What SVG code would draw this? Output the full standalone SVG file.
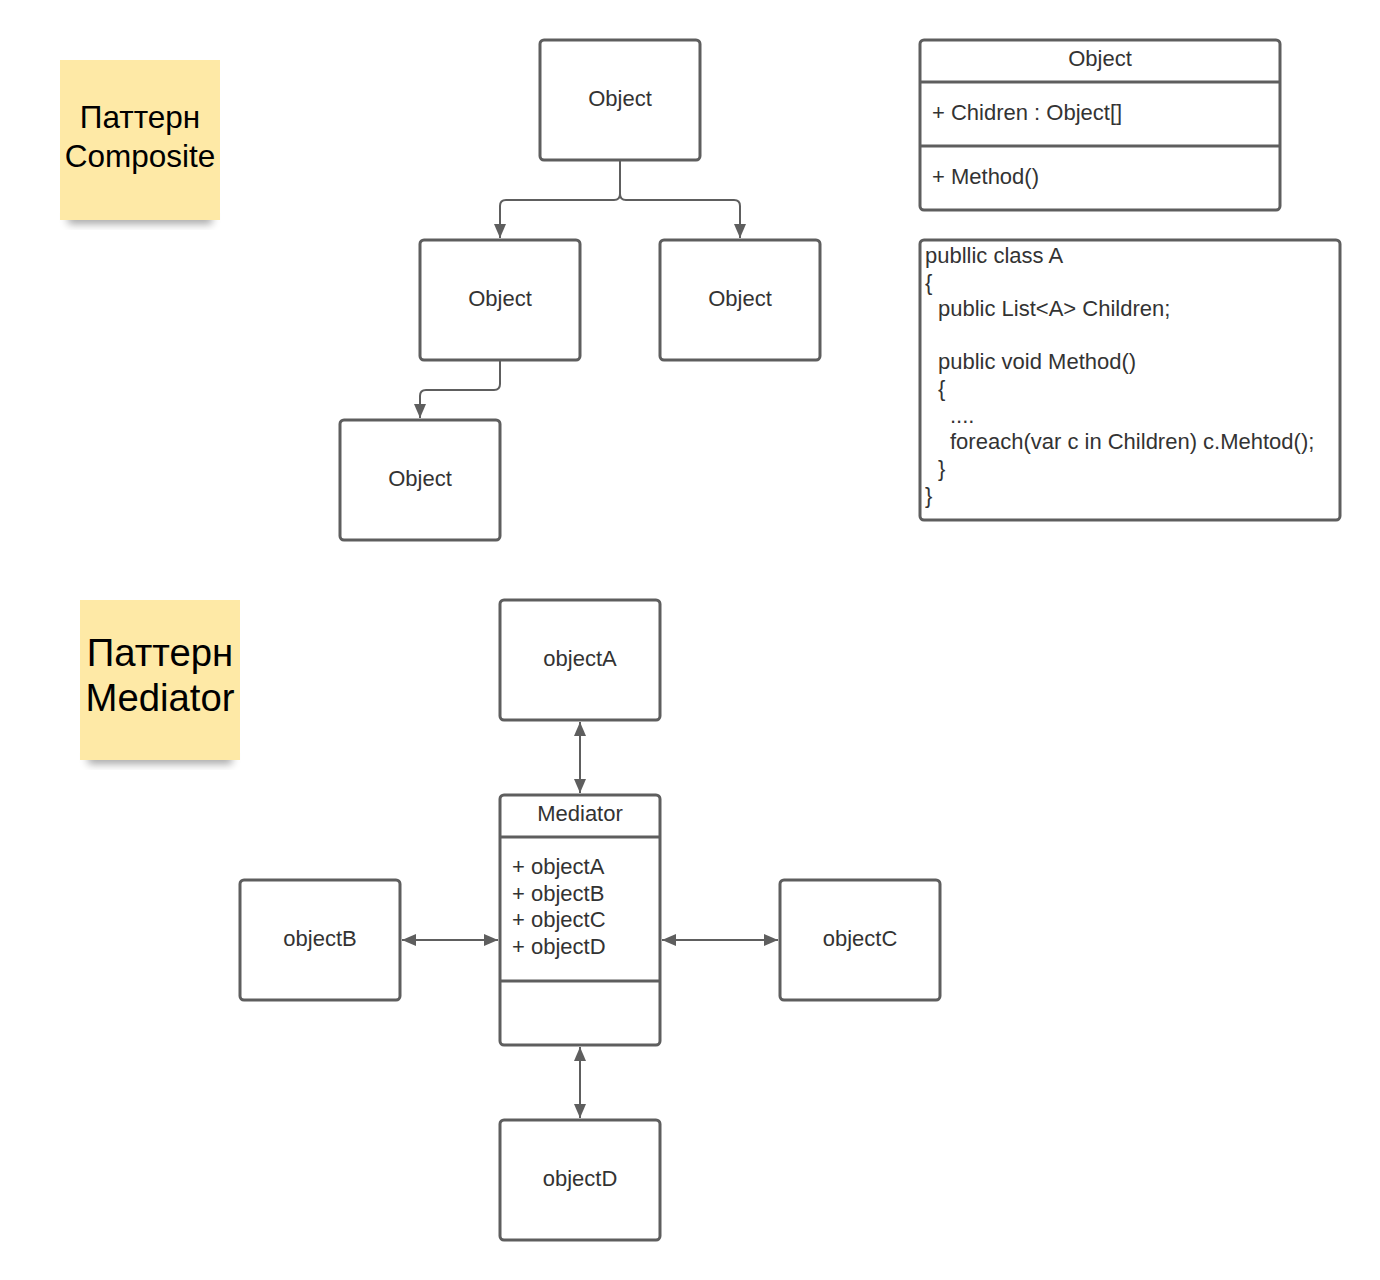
<svg xmlns="http://www.w3.org/2000/svg" width="1380" height="1280" viewBox="0 0 1380 1280">
<defs>
<style>
.box{fill:#fff;stroke:#5e5e5e;stroke-width:3}
.div{stroke:#5e5e5e;stroke-width:3}
.lbl{font-family:"Liberation Sans",Arial,sans-serif;font-size:22px;fill:#333}
.sticky{fill:#fee9a6}
.st{font-family:"Liberation Sans",Arial,sans-serif;fill:#000}
.con{fill:none;stroke:#5e5e5e;stroke-width:2}
</style>
<marker id="ah" viewBox="0 0 14 12" refX="14" refY="6" markerWidth="14" markerHeight="12" markerUnits="userSpaceOnUse" orient="auto-start-reverse">
<path d="M0,0 L14,6 L0,12 Z" fill="#5e5e5e"/>
</marker>
<filter id="sh" x="-20%" y="-50%" width="140%" height="200%">
<feGaussianBlur stdDeviation="4"/>
</filter>
</defs>
<rect width="1380" height="1280" fill="#fff"/>

<g id="sticky-composite">
<rect x="68" y="212" width="144" height="12" fill="#000" opacity="0.35" filter="url(#sh)"/>
<rect class="sticky" x="60" y="60" width="160" height="160"/>
<text class="st" x="140" y="128" font-size="31.5" text-anchor="middle">Паттерн</text>
<text class="st" x="140" y="167" font-size="31.5" text-anchor="middle">Composite</text>
</g>

<g id="sticky-mediator">
<rect x="88" y="752" width="144" height="12" fill="#000" opacity="0.35" filter="url(#sh)"/>
<rect class="sticky" x="80" y="600" width="160" height="160"/>
<text class="st" x="160" y="666" font-size="38.3" text-anchor="middle">Паттерн</text>
<text class="st" x="160" y="711" font-size="38.3" text-anchor="middle">Mediator</text>
</g>

<g id="obj-top">
<rect class="box" x="540" y="40" width="160" height="120" rx="4"/>
<text class="lbl" x="620" y="106" text-anchor="middle">Object</text>
</g>
<g id="obj-left">
<rect class="box" x="420" y="240" width="160" height="120" rx="4"/>
<text class="lbl" x="500" y="306" text-anchor="middle">Object</text>
</g>
<g id="obj-right">
<rect class="box" x="660" y="240" width="160" height="120" rx="4"/>
<text class="lbl" x="740" y="306" text-anchor="middle">Object</text>
</g>
<g id="obj-bottom">
<rect class="box" x="340" y="420" width="160" height="120" rx="4"/>
<text class="lbl" x="420" y="486" text-anchor="middle">Object</text>
</g>

<g id="class-object">
<rect class="box" x="920" y="40" width="360" height="170" rx="4"/>
<line class="div" x1="920" y1="82" x2="1280" y2="82"/>
<line class="div" x1="920" y1="146" x2="1280" y2="146"/>
<text class="lbl" x="1100" y="66" text-anchor="middle">Object</text>
<text class="lbl" x="932" y="120">+ Chidren : Object[]</text>
<text class="lbl" x="932" y="184">+ Method()</text>
</g>

<g id="code-box">
<rect class="box" x="920" y="240" width="420" height="280" rx="4"/>
<text class="lbl" x="925" y="263">publlic class A</text>
<text class="lbl" x="925" y="290">{</text>
<text class="lbl" x="938" y="316">public List&lt;A&gt; Children;</text>
<text class="lbl" x="938" y="369">public void Method()</text>
<text class="lbl" x="938" y="396">{</text>
<text class="lbl" x="950" y="423">....</text>
<text class="lbl" x="950" y="449">foreach(var c in Children) c.Mehtod();</text>
<text class="lbl" x="938" y="476">}</text>
<text class="lbl" x="925" y="503">}</text>
</g>

<g id="objectA">
<rect class="box" x="500" y="600" width="160" height="120" rx="4"/>
<text class="lbl" x="580" y="666" text-anchor="middle">objectA</text>
</g>
<g id="mediator">
<rect class="box" x="500" y="795" width="160" height="250" rx="4"/>
<line class="div" x1="500" y1="837" x2="660" y2="837"/>
<line class="div" x1="500" y1="981" x2="660" y2="981"/>
<text class="lbl" x="580" y="821" text-anchor="middle">Mediator</text>
<text class="lbl" x="512" y="874">+ objectA</text>
<text class="lbl" x="512" y="901">+ objectB</text>
<text class="lbl" x="512" y="927">+ objectC</text>
<text class="lbl" x="512" y="954">+ objectD</text>
</g>
<g id="objectB">
<rect class="box" x="240" y="880" width="160" height="120" rx="4"/>
<text class="lbl" x="320" y="946" text-anchor="middle">objectB</text>
</g>
<g id="objectC">
<rect class="box" x="780" y="880" width="160" height="120" rx="4"/>
<text class="lbl" x="860" y="946" text-anchor="middle">objectC</text>
</g>
<g id="objectD">
<rect class="box" x="500" y="1120" width="160" height="120" rx="4"/>
<text class="lbl" x="580" y="1186" text-anchor="middle">objectD</text>
</g>

<g id="connectors">
<path class="con" d="M620,161 V194 Q620,200 614,200 H506 Q500,200 500,206 V238" marker-end="url(#ah)"/>
<path class="con" d="M620,161 V194 Q620,200 626,200 H734 Q740,200 740,206 V238" marker-end="url(#ah)"/>
<path class="con" d="M500,361 V384 Q500,390 494,390 H426 Q420,390 420,396 V418" marker-end="url(#ah)"/>
<line class="con" x1="580" y1="722" x2="580" y2="793" marker-start="url(#ah)" marker-end="url(#ah)"/>
<line class="con" x1="402" y1="940" x2="498" y2="940" marker-start="url(#ah)" marker-end="url(#ah)"/>
<line class="con" x1="662" y1="940" x2="778" y2="940" marker-start="url(#ah)" marker-end="url(#ah)"/>
<line class="con" x1="580" y1="1047" x2="580" y2="1118" marker-start="url(#ah)" marker-end="url(#ah)"/>
</g>
</svg>
